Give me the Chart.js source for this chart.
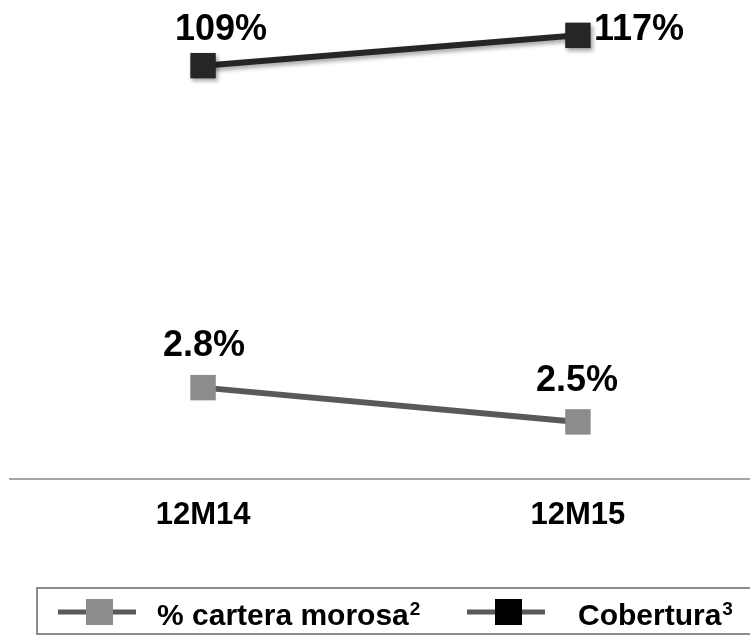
<!DOCTYPE html>
<html>
<head>
<meta charset="utf-8">
<script src="https://cdn.jsdelivr.net/npm/chart.js@4/dist/chart.umd.min.js"></script>
<style>
  html, body { margin: 0; padding: 0; background: #fff; }
  canvas { display: block; }
</style>
</head>
<body>
<canvas id="riskChart" width="750" height="636"></canvas>
<script>
const periods = ['12M14', '12M15'];
const seriesNames = ['% cartera morosa', 'Cobertura'];
const seriesNotes = ['2', '3'];
const morosidad = [2.8, 2.5];   // % cartera morosa
const cobertura = [109, 117];   // cobertura

const FONT = "'Liberation Sans', Arial, sans-serif";
Chart.defaults.font.family = FONT;

// value labels next to each point
const valueLabels = {
    id: 'valueLabels',
    afterDatasetsDraw(chart, args, opts) {
        const ctx = chart.ctx;
        ctx.save();
        ctx.font = 'bold 36px ' + FONT;
        ctx.fillStyle = '#000';
        ctx.textBaseline = 'alphabetic';
        chart.data.datasets.forEach((ds, di) => {
            const meta = chart.getDatasetMeta(di);
            meta.data.forEach((pt, i) => {
                const off = opts.offsets[di][i];
                const v = ds.data[i].y;
                const txt = di === 0 ? v.toFixed(1) + '%' : v + '%';
                ctx.textAlign = off.align;
                ctx.fillText(txt, pt.x + off.dx, pt.y + off.dy);
            });
        });
        ctx.restore();
    }
};

// soft shadow under the dark series
const shadow = {
    id: 'shadow',
    beforeDatasetDraw(chart, args) {
        if (args.index !== 1) return;
        const ctx = chart.ctx;
        ctx.save();
        ctx.shadowColor = 'rgba(0,0,0,0.35)';
        ctx.shadowBlur = 4;
        ctx.shadowOffsetX = 2;
        ctx.shadowOffsetY = 3;
    },
    afterDatasetDraw(chart, args) {
        if (args.index !== 1) return;
        chart.ctx.restore();
    }
};

// boxed legend with line + marker samples
const boxLegend = {
    id: 'boxLegend',
    afterDraw(chart) {
        const ctx = chart.ctx;
        ctx.save();
        ctx.strokeStyle = '#8c8c8c';
        ctx.lineWidth = 2;
        ctx.strokeRect(37, 588, 730, 46);

        const items = [
            { x: 58, marker: '#8c8c8c', textX: 157 },
            { x: 467, marker: '#000000', textX: 578 }
        ];
        items.forEach((it, i) => {
            ctx.strokeStyle = '#595959';
            ctx.lineWidth = 5;
            ctx.beginPath();
            ctx.moveTo(it.x, 612);
            ctx.lineTo(it.x + 78, 612);
            ctx.stroke();
            ctx.fillStyle = it.marker;
            ctx.fillRect(it.x + 28, 599, 27, 26);
            ctx.fillStyle = '#000';
            ctx.textAlign = 'left';
            ctx.textBaseline = 'alphabetic';
            ctx.font = 'bold 30px ' + FONT;
            ctx.fillText(seriesNames[i], it.textX, 625);
            const w = ctx.measureText(seriesNames[i]).width;
            ctx.font = 'bold 19px ' + FONT;
            ctx.fillText(seriesNotes[i], it.textX + w + 1, 615);
        });
        ctx.restore();
    }
};

const ctx = document.getElementById('riskChart').getContext('2d');
new Chart(ctx, {
    type: 'line',
    data: {
        datasets: [{
            label: seriesNames[0],
            data: morosidad.map((v, i) => ({ x: i, y: v })),
            yAxisID: 'y',
            borderColor: '#595959',
            borderWidth: 6,
            pointStyle: 'rect',
            pointRadius: 18,
            pointBackgroundColor: '#8c8c8c',
            pointBorderWidth: 0,
            clip: false
        }, {
            label: seriesNames[1],
            data: cobertura.map((v, i) => ({ x: i, y: v })),
            yAxisID: 'y2',
            borderColor: '#262626',
            borderWidth: 6,
            pointStyle: 'rect',
            pointRadius: 18,
            pointBackgroundColor: '#262626',
            pointBorderWidth: 0,
            clip: false
        }]
    },
    options: {
        responsive: false,
        animation: false,
        devicePixelRatio: 1,
        layout: { autoPadding: false, padding: { top: 5, left: 10, right: 0, bottom: 0 } },
        plugins: {
            legend: { display: false },
            tooltip: { enabled: false },
            valueLabels: {
                offsets: [
                    [{ dx: 1, dy: -32, align: 'center' }, { dx: -1, dy: -31, align: 'center' }],
                    [{ dx: 18, dy: -26, align: 'center' }, { dx: 16, dy: 5, align: 'left' }]
                ]
            }
        },
        scales: {
            x: {
                type: 'linear',
                min: -0.515,
                max: 1.459,
                grid: { display: false },
                border: { display: true, color: '#a6a6a6', width: 2 },
                afterBuildTicks: scale => {
                    scale.ticks = periods.map((p, i) => ({ value: i }));
                },
                afterFit: scale => {
                    scale.height = 157;
                    scale.paddingLeft = 0;
                    scale.paddingRight = 0;
                    scale.paddingTop = 0;
                    scale.paddingBottom = 0;
                },
                ticks: {
                    padding: 10,
                    color: '#000',
                    font: { size: 31, weight: 'bold' },
                    callback: v => periods[v]
                }
            },
            y: { display: false, min: 2.0, max: 6.15 },
            y2: { display: false, min: 0, max: 125 }
        }
    },
    plugins: [valueLabels, shadow, boxLegend]
});
</script>
</body>
</html>
